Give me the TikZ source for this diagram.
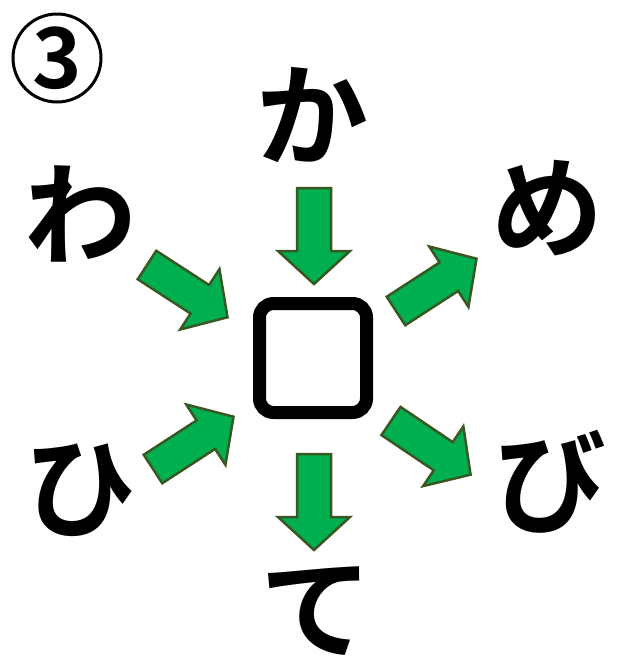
\documentclass[tikz,border=0pt]{standalone}
\usepackage{fontspec}
\newfontfamily\jpfont{Noto Sans CJK JP}[UprightFont={* Bold}]
\definecolor{arrowgreen}{RGB}{0,176,80}
\definecolor{arrowedge}{RGB}{56,87,35}

\tikzset{
  greenarrow/.pic={
    \draw[arrowedge, fill=arrowgreen, line width=2.5pt]
      (0,-17) -- (63,-17) -- (63,-36) -- (96,0) -- (63,36) -- (63,17) -- (0,17) -- cycle;
  }
}

\begin{document}
\begin{tikzpicture}[x=1pt, y=-1pt,
  kana/.style={font=\jpfont\fontsize{112}{112}\selectfont, inner sep=0pt}]
  \useasboundingbox (0,0) rectangle (620,665);
  % circled number
  \node[draw, circle, line width=3pt, minimum size=88pt, inner sep=0pt,
    font=\jpfont\fontsize{84}{84}\selectfont] (num) at (57,58) {3};
  % the empty box in the middle
  \node[draw, line width=13pt, rounded corners=14pt,
    minimum width=107pt, minimum height=109pt] (box) at (313,358) {};
  % kana round the box
  \node[kana] (ka) at (312,115) {か};
  \node[kana] (wa) at (80,214) {わ};
  \node[kana] (me) at (547,208) {め};
  \node[kana] (hi) at (80,490) {ひ};
  \node[kana] (bi) at (550,482) {び};
  \node[kana] (te) at (316,611) {て};
  % green arrows
  \pic[rotate=-90] at (314,188) {greenarrow};
  \pic[rotate=-90] at (314,454) {greenarrow};
  \pic[rotate=-33] at (147,265) {greenarrow};
  \pic[rotate=33] at (396,311) {greenarrow};
  \pic[rotate=33] at (153,469) {greenarrow};
  \pic[rotate=-34] at (391,421) {greenarrow};
\end{tikzpicture}
\end{document}
